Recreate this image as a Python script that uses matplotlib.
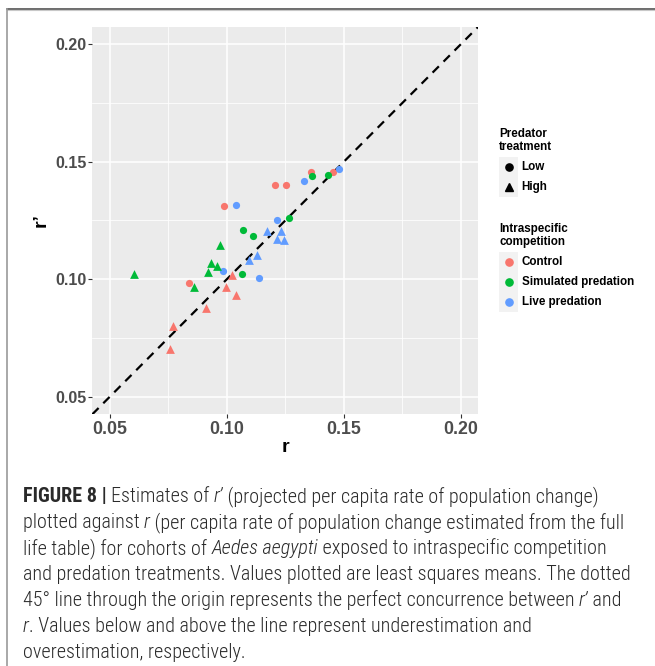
import matplotlib
matplotlib.use("Agg")
import numpy as np
import matplotlib.pyplot as plt
from matplotlib import font_manager as fm
from matplotlib.lines import Line2D
from matplotlib.patches import Rectangle

# ---------------- data (r, r') ----------------
control_low_r = [0.0989, 0.0840, 0.1205, 0.1255, 0.1358, 0.1452]
control_low_rp = [0.1312, 0.0984, 0.1400, 0.1400, 0.1455, 0.1458]
live_low_r = [0.1040, 0.0984, 0.1138, 0.1215, 0.1329, 0.1481]
live_low_rp = [0.1318, 0.1034, 0.1004, 0.1251, 0.1417, 0.1470]
sim_low_r = [0.1071, 0.1113, 0.1063, 0.1265, 0.1363, 0.1433]
sim_low_rp = [0.1211, 0.1182, 0.1024, 0.1261, 0.1438, 0.1443]
control_high_r = [0.0772, 0.0758, 0.0910, 0.0997, 0.1024, 0.1040]
control_high_rp = [0.0801, 0.0701, 0.0878, 0.0966, 0.1018, 0.0933]
sim_high_r = [0.0603, 0.0860, 0.0919, 0.0932, 0.0956, 0.0972]
sim_high_rp = [0.1021, 0.0969, 0.1031, 0.1068, 0.1058, 0.1147]
live_high_r = [0.1094, 0.1131, 0.1170, 0.1214, 0.1232, 0.1245]
live_high_rp = [0.1082, 0.1105, 0.1206, 0.1173, 0.1206, 0.1169]

ticks = [0.05, 0.10, 0.15, 0.20]
tick_labels = ["0.05", "0.10", "0.15", "0.20"]
minor_ticks = [0.075, 0.125, 0.175]
competition_labels = ["Control", "Simulated predation", "Live predation"]
predator_labels = ["Low", "High"]
colors = ["#F8766D", "#00BA38", "#619CFF"]

W, H = 655, 666
fig = plt.figure(figsize=(W / 100, H / 100), dpi=100)
fig.patch.set_facecolor("white")


def fx(px):
    return px / W


def fy(py):
    return 1 - py / H


BF = "Liberation Sans"

# ---------------- panel ----------------
L, R, T, B = 92.3, 478.3, 26.7, 414.3
ax = fig.add_axes([fx(L), fy(B), (R - L) / W, (B - T) / H])
ax.set_facecolor("#EBEBEB")
ax.set_xlim(0.0425, 0.2075)
ax.set_ylim(0.0425, 0.2075)
ax.set_xticks(ticks)
ax.set_yticks(ticks)
ax.set_xticks(minor_ticks, minor=True)
ax.set_yticks(minor_ticks, minor=True)
ax.set_xticklabels(tick_labels, fontsize=12.8, fontweight="bold", color="#4D4D4D", family=BF)
ax.set_yticklabels(tick_labels, fontsize=11.5, fontweight="bold", color="#4D4D4D", family=BF)
ax.grid(which="major", color="white", lw=1.1)
ax.grid(which="minor", color="white", lw=0.55)
ax.set_axisbelow(True)
for s in ax.spines.values():
    s.set_visible(False)
ax.tick_params(which="major", length=2.7, width=0.8, color="#333333")
ax.tick_params(axis="y", which="major", pad=1.2)
ax.tick_params(axis="x", which="major", pad=2.0)
ax.tick_params(which="minor", length=0)

ax.axline((0, 0), slope=1, color="black", lw=1.6, dashes=(4, 3), zorder=2)

circ_s = 5.2 ** 2
tri_s = 6.3 ** 2
groups = [
    (control_low_r, control_low_rp, colors[0], "o", circ_s),
    (sim_low_r, sim_low_rp, colors[1], "o", circ_s),
    (live_low_r, live_low_rp, colors[2], "o", circ_s),
    (control_high_r, control_high_rp, colors[0], "^", tri_s),
    (sim_high_r, sim_high_rp, colors[1], "^", tri_s),
    (live_high_r, live_high_rp, colors[2], "^", tri_s),
]
for xs, ys, c, m, s in groups:
    ax.scatter(xs, ys, s=s, c=c, marker=m, linewidths=0, zorder=3)

# axis titles
fig.text(fx((L + R) / 2), fy(452), "r", ha="center", va="baseline",
         fontsize=14, fontweight="bold", family=BF)
fig.text(fx(41), fy((T + B) / 2), "r\u2019", ha="center", va="center", rotation=90,
         fontsize=14, fontweight="bold", family=BF)

# ---------------- legends ----------------
LX = 499.0
KW = 19.3
TXT_X = 521.7
LFS = 8.4


def key_box(top):
    fig.add_artist(Rectangle((fx(LX), fy(top + 20)), KW / W, 20 / H,
                             transform=fig.transFigure, facecolor="#F2F2F2",
                             edgecolor="none"))


fig.text(fx(LX), fy(134), "Predator", fontsize=LFS, fontweight="bold", family=BF, va="center")
fig.text(fx(LX), fy(146.5), "treatment", fontsize=LFS, fontweight="bold", family=BF, va="center")
for i, (lab, mk, ms) in enumerate(zip(predator_labels, ["o", "^"], [5.2, 6.0])):
    top = 156.7 + 20 * i
    key_box(top)
    fig.add_artist(Line2D([fx(LX + KW / 2)], [fy(top + 10)], marker=mk, ms=ms, color="black",
                          linestyle="none", transform=fig.transFigure))
    fig.text(fx(TXT_X), fy(top + 10), lab, fontsize=LFS, fontweight="bold", family=BF, va="center")

fig.text(fx(LX), fy(229), "Intraspecific", fontsize=LFS, fontweight="bold", family=BF, va="center")
fig.text(fx(LX), fy(241.7), "competition", fontsize=LFS, fontweight="bold", family=BF, va="center")
for i, (lab, c) in enumerate(zip(competition_labels, colors)):
    top = 251.7 + 20 * i
    key_box(top)
    fig.add_artist(Line2D([fx(LX + KW / 2)], [fy(top + 10)], marker="o", ms=5.2, color=c,
                          linestyle="none", transform=fig.transFigure))
    fig.text(fx(TXT_X), fy(top + 10), lab, fontsize=LFS, fontweight="bold", family=BF, va="center")

# ---------------- frame lines ----------------
fig.add_artist(Line2D([fx(7), 1], [fy(8.5), fy(8.5)], color="#444444", lw=1.1,
                      transform=fig.transFigure))
fig.add_artist(Line2D([fx(7), 1], [fy(9.8), fy(9.8)], color="#C8C8C8", lw=0.8,
                      transform=fig.transFigure))
fig.add_artist(Line2D([fx(7.3), fx(7.3)], [fy(8.5), 0], color="#9A9A9A", lw=1.2,
                      transform=fig.transFigure))

# ---------------- caption ----------------
names = {f.name for f in fm.fontManager.ttflist}
cap_family = "Liberation Sans"
for cand in ["Liberation Sans Narrow", "Roboto Condensed", "Open Sans Condensed", "Liberation Sans"]:
    if cand in names:
        cap_family = cand
        break

renderer = fig.canvas.get_renderer()


def seg_width(text, size, weight, style):
    t1 = fig.text(0, 0, text + "|", fontsize=size, fontweight=weight, style=style, family=cap_family)
    t2 = fig.text(0, 0, "|", fontsize=size, fontweight=weight, style=style, family=cap_family)
    w = t1.get_window_extent(renderer).width - t2.get_window_extent(renderer).width
    t1.remove()
    t2.remove()
    return w


caption = [
    [("FIGURE 8 | ", "b"), ("Estimates of ", "n"), ("r\u2019", "i"),
     (" (projected per capita rate of population change)", "n")],
    [("plotted against ", "n"), ("r", "i"),
     (" (per capita rate of population change estimated from the full", "n")],
    [("life table) for cohorts of ", "n"), ("Aedes aegypti", "i"),
     (" exposed to intraspecific competition", "n")],
    [("and predation treatments. Values plotted are least squares means. The dotted", "n")],
    [("45\u00b0 line through the origin represents the perfect concurrence between ", "n"),
     ("r\u2019", "i"), (" and", "n")],
    [("r", "i"), (". Values below and above the line represent underestimation and", "n")],
    [("overestimation, respectively.", "n")],
]
STY = {"n": ("light", "normal"), "b": ("bold", "normal"), "i": ("light", "italic")}


def line_width(segs, size):
    return sum(seg_width(t, size, *STY[k]) for t, k in segs)


ref_size = 12.0
target = 608.0
cap_size = ref_size * target / line_width(caption[1], ref_size)
cap_size = min(cap_size, 14.5)

x0 = 22.7
base0 = 502.3
spacing = 25.9
for li, segs in enumerate(caption):
    x = x0
    yb = base0 + spacing * li
    for text, k in segs:
        wgt, sty = STY[k]
        fig.text(fx(x), fy(yb), text, fontsize=cap_size, fontweight=wgt, style=sty,
                 family=cap_family, va="baseline", ha="left", color="#2A2A2A")
        x += seg_width(text, cap_size, wgt, sty)

fig.savefig("out.png", dpi=100, facecolor="white")
